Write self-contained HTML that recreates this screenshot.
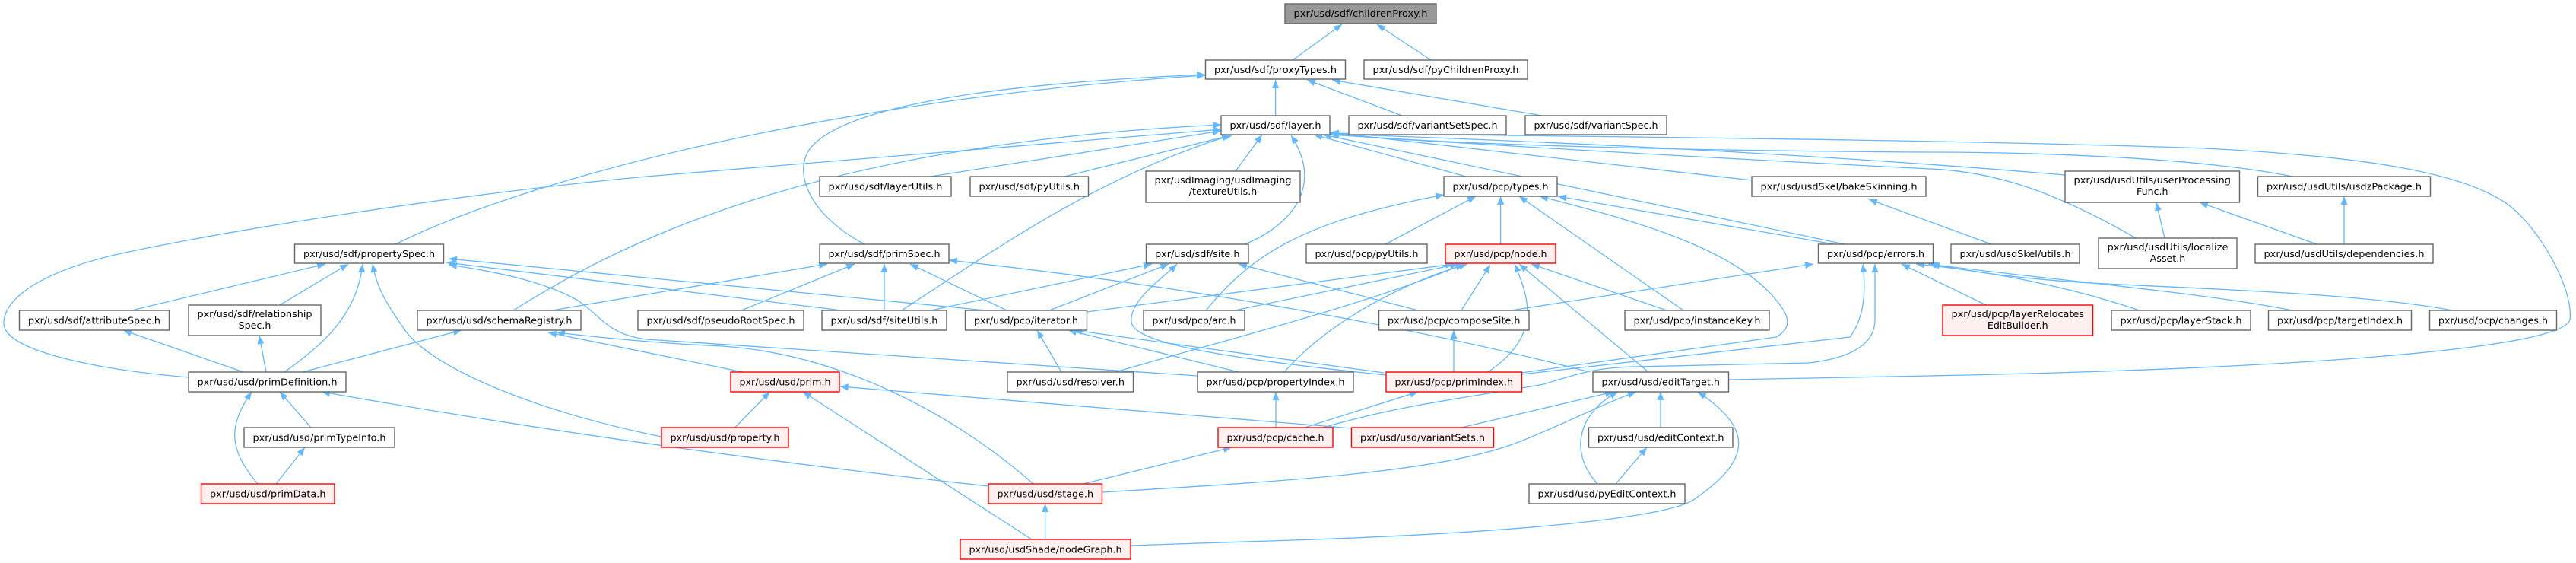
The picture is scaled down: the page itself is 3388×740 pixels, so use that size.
<!DOCTYPE html>
<html><head><meta charset="utf-8"><style>
html,body{margin:0;padding:0;background:#fff;}
svg{display:block;}
text{font-family:"DejaVu Sans","Liberation Sans",sans-serif;font-size:12.6px;fill:#000;}
.e{fill:none;stroke:#63b8ff;stroke-width:1.3;marker-end:url(#a);}
.n{fill:#fff;stroke:#666;stroke-width:1.4;}
.r{fill:#fff0f0;stroke:#f00;stroke-width:1.4;}
.g{fill:#999;stroke:#666;stroke-width:1.4;}
</style></head><body>
<svg width="3388" height="740" viewBox="0 0 3388 740" xmlns="http://www.w3.org/2000/svg">
<defs><marker id="a" markerUnits="userSpaceOnUse" markerWidth="12" markerHeight="10" refX="11" refY="4.5" orient="auto"><path d="M0,0L11,4.5L0,9z" fill="#63b8ff"/></marker></defs>
<g>
<path class="e" d="M1700,79 L1765,32"/>
<path class="e" d="M1882,79 L1811,32"/>
<path class="e" d="M1677.6,152 L1677.6,105"/>
<path class="e" d="M1844,152 L1719,105"/>
<path class="e" d="M2028,152 L1752,105"/>
<path class="e" d="M520,321 C700,232 1100,130 1585,99"/>
<path class="e" d="M1137,321 C1060,280 1040,220 1070,190 C1120,140 1300,110 1585,98"/>
<path class="e" d="M1224,232 L1606,172"/>
<path class="e" d="M1400,232 L1622,177"/>
<path class="e" d="M1625,225 L1660,177"/>
<path class="e" d="M1928,232 L1728,177"/>
<path class="e" d="M2304,237 L1749,174"/>
<path class="e" d="M2426,321 L1740,177"/>
<path class="e" d="M1637,321 C1690,300 1745,250 1698,178"/>
<path class="e" d="M1186,408 C1320,320 1450,230 1618,178"/>
<path class="e" d="M675,408 C800,330 1050,190 1606,164"/>
<path class="e" d="M248,496 C120,485 5,460 5,425 C5,390 60,355 160,333 C300,303 600,255 850,232 L1606,170"/>
<path class="e" d="M3015,232 C2880,205 2650,200 2538,200 C2200,198 1900,190 1750,176"/>
<path class="e" d="M2716,230 Q2300,195 1750,176"/>
<path class="e" d="M2809,313 C2700,250 2620,225 2538,222 Q2100,200 1750,177"/>
<path class="e" d="M2273,499 L2538,494 C3000,485 3370,460 3380,420 C3385,380 3340,300 3300,270 C3240,225 3100,205 2900,195 C2538,182 1900,178 1750,175"/>
<path class="e" d="M173,408 L428,347"/>
<path class="e" d="M368,401 L458,347"/>
<path class="e" d="M374,489 C430,450 470,410 477,347"/>
<path class="e" d="M870,574 C700,540 560,480 530,430 C505,395 495,375 490,347"/>
<path class="e" d="M1107,408 L587,345"/>
<path class="e" d="M1297,408 L590,340"/>
<path class="e" d="M1575,494 L850,446 C800,440 790,415 760,395 C720,372 660,358 590,348"/>
<path class="e" d="M1359,636 C1250,540 1100,465 950,455 C880,452 800,445 732,437"/>
<path class="e" d="M977,489 L721,437"/>
<path class="e" d="M398,489 L607,434"/>
<path class="e" d="M320,489 L162,434"/>
<path class="e" d="M350,489 L341,441"/>
<path class="e" d="M726,408 L1088,347"/>
<path class="e" d="M409,562 L368,515"/>
<path class="e" d="M339,636 C300,590 300,560 331,515"/>
<path class="e" d="M363,636 L401,588"/>
<path class="e" d="M1300,639 Q850,590 423,515"/>
<path class="e" d="M975,408 L1124,347"/>
<path class="e" d="M1163,408 L1163,347"/>
<path class="e" d="M1324,408 L1197,347"/>
<path class="e" d="M2087,488 C1900,440 1600,380 1248,342"/>
<path class="e" d="M1224,408 L1515,347"/>
<path class="e" d="M1380,408 L1537,347"/>
<path class="e" d="M1823,493 C1600,470 1490,450 1488,423 C1485,395 1530,365 1548,347"/>
<path class="e" d="M1865,408 L1629,347"/>
<path class="e" d="M1396,489 L1364,434"/>
<path class="e" d="M1629,489 L1405,434"/>
<path class="e" d="M1820,490 L1412,434"/>
<path class="e" d="M1429,410 L1912,347"/>
<path class="e" d="M1624,408 L1918,347"/>
<path class="e" d="M1467,489 C1600,450 1800,400 1925,347"/>
<path class="e" d="M1689,489 C1750,420 1850,370 1930,347"/>
<path class="e" d="M1922,408 L1960,348"/>
<path class="e" d="M1957,489 C2030,440 2010,390 1992,347"/>
<path class="e" d="M2168,489 L1998,347"/>
<path class="e" d="M2192,408 L2014,347"/>
<path class="e" d="M1586,408 C1650,330 1720,290 1899,256"/>
<path class="e" d="M1822,321 L1941,258"/>
<path class="e" d="M1973.6,321 L1973.6,258"/>
<path class="e" d="M2214,408 L1998,258"/>
<path class="e" d="M2001,490 L2336,443 C2350,435 2355,425 2347,410 C2300,330 2150,290 2025,258"/>
<path class="e" d="M2412,321 L2049,258"/>
<path class="e" d="M1987,408 L2385,347"/>
<path class="e" d="M2001,492 L2433,443 C2450,420 2455,390 2450,347"/>
<path class="e" d="M1740,562 C1850,530 1950,520 2030,505 C2080,490 2100,483 2150,482 L2379,477 C2440,470 2466,450 2466,420 L2466,347"/>
<path class="e" d="M2612,401 L2501,347"/>
<path class="e" d="M2814,408 C2700,370 2600,355 2520,347"/>
<path class="e" d="M3015,408 C2900,385 2700,368 2536,347"/>
<path class="e" d="M3226,408 C3100,385 2900,380 2750,372 C2650,366 2580,355 2540,347"/>
<path class="e" d="M2619,321 L2458,262"/>
<path class="e" d="M2847,313 L2836,266"/>
<path class="e" d="M3047,321 L2893,266"/>
<path class="e" d="M3083,321 L3083,258"/>
<path class="e" d="M1922,562 L2122,515"/>
<path class="e" d="M2101,636 C2060,590 2080,540 2128,515"/>
<path class="e" d="M1449.5,647 C1700,632 1900,620 2000,580 C2060,556 2110,530 2152,515"/>
<path class="e" d="M2184,562 L2184,515"/>
<path class="e" d="M1487,717 L1700,710 C2000,700 2200,680 2230,655 C2310,600 2300,560 2233,515"/>
<path class="e" d="M2125,636 L2166,588"/>
<path class="e" d="M1424.5,636 L1620,588"/>
<path class="e" d="M1678,562 L1678,515"/>
<path class="e" d="M1716,562 L1865,515"/>
<path class="e" d="M1912,489 L1912,434"/>
<path class="e" d="M1374.6,709 L1374.6,662"/>
<path class="e" d="M1357,709 L1056,515"/>
<path class="e" d="M966.5,562 L1012.6,515"/>
<path class="e" d="M1778,563 L1104.7,508"/>
</g>
<g>
<rect class="g" x="1690" y="5" width="199" height="26"/><text x="1701.5" y="22" textLength="176" lengthAdjust="spacingAndGlyphs">pxr/usd/sdf/childrenProxy.h</text>
<rect class="n" x="1585.5" y="79" width="184" height="25"/><text x="1597" y="96" textLength="161" lengthAdjust="spacingAndGlyphs">pxr/usd/sdf/proxyTypes.h</text>
<rect class="n" x="1794" y="79" width="215" height="25"/><text x="1805.5" y="96" textLength="192" lengthAdjust="spacingAndGlyphs">pxr/usd/sdf/pyChildrenProxy.h</text>
<rect class="n" x="1606" y="152" width="143" height="25"/><text x="1617.5" y="169" textLength="120" lengthAdjust="spacingAndGlyphs">pxr/usd/sdf/layer.h</text>
<rect class="n" x="1774" y="152" width="207" height="25"/><text x="1785.5" y="169" textLength="184" lengthAdjust="spacingAndGlyphs">pxr/usd/sdf/variantSetSpec.h</text>
<rect class="n" x="2006" y="152" width="186" height="25"/><text x="2017.5" y="169" textLength="163" lengthAdjust="spacingAndGlyphs">pxr/usd/sdf/variantSpec.h</text>
<rect class="n" x="1078" y="232" width="173" height="26"/><text x="1089.5" y="249.5" textLength="150" lengthAdjust="spacingAndGlyphs">pxr/usd/sdf/layerUtils.h</text>
<rect class="n" x="1276" y="232" width="155.5" height="26"/><text x="1287.5" y="249.5" textLength="132.5" lengthAdjust="spacingAndGlyphs">pxr/usd/sdf/pyUtils.h</text>
<rect class="n" x="1507" y="225" width="203" height="41"/><text x="1518.5" y="241" textLength="180" lengthAdjust="spacingAndGlyphs">pxr/usdImaging/usdImaging</text><text x="1608.5" y="256" text-anchor="middle">/textureUtils.h</text>
<rect class="n" x="1899" y="232" width="149" height="26"/><text x="1910.5" y="249.5" textLength="126" lengthAdjust="spacingAndGlyphs">pxr/usd/pcp/types.h</text>
<rect class="n" x="2304" y="232" width="229" height="26"/><text x="2315.5" y="249.5" textLength="206" lengthAdjust="spacingAndGlyphs">pxr/usd/usdSkel/bakeSkinning.h</text>
<rect class="n" x="2716" y="225" width="229.5" height="41"/><text x="2727.5" y="241" textLength="206.5" lengthAdjust="spacingAndGlyphs">pxr/usd/usdUtils/userProcessing</text><text x="2830.75" y="256" text-anchor="middle">Func.h</text>
<rect class="n" x="2969.5" y="232" width="227" height="26"/><text x="2981" y="249.5" textLength="204" lengthAdjust="spacingAndGlyphs">pxr/usd/usdUtils/usdzPackage.h</text>
<rect class="n" x="387.5" y="321" width="196" height="25"/><text x="399" y="338" textLength="173" lengthAdjust="spacingAndGlyphs">pxr/usd/sdf/propertySpec.h</text>
<rect class="n" x="1078" y="321" width="170" height="25"/><text x="1089.5" y="338" textLength="147" lengthAdjust="spacingAndGlyphs">pxr/usd/sdf/primSpec.h</text>
<rect class="n" x="1507.5" y="321" width="134.5" height="25"/><text x="1519" y="338" textLength="111.5" lengthAdjust="spacingAndGlyphs">pxr/usd/sdf/site.h</text>
<rect class="n" x="1718" y="321" width="159" height="25"/><text x="1729.5" y="338" textLength="136" lengthAdjust="spacingAndGlyphs">pxr/usd/pcp/pyUtils.h</text>
<rect class="r" x="1901" y="321" width="145" height="25"/><text x="1912.5" y="338" textLength="122" lengthAdjust="spacingAndGlyphs">pxr/usd/pcp/node.h</text>
<rect class="n" x="2391.5" y="321" width="151" height="25"/><text x="2403" y="338" textLength="128" lengthAdjust="spacingAndGlyphs">pxr/usd/pcp/errors.h</text>
<rect class="n" x="2566" y="321" width="169" height="25"/><text x="2577.5" y="338" textLength="146" lengthAdjust="spacingAndGlyphs">pxr/usd/usdSkel/utils.h</text>
<rect class="n" x="2760" y="313" width="182" height="40"/><text x="2771.5" y="329" textLength="159" lengthAdjust="spacingAndGlyphs">pxr/usd/usdUtils/localize</text><text x="2851" y="344" text-anchor="middle">Asset.h</text>
<rect class="n" x="2966" y="321" width="234" height="25"/><text x="2977.5" y="338" textLength="211" lengthAdjust="spacingAndGlyphs">pxr/usd/usdUtils/dependencies.h</text>
<rect class="n" x="25.5" y="408" width="197" height="26"/><text x="37" y="425.5" textLength="174" lengthAdjust="spacingAndGlyphs">pxr/usd/sdf/attributeSpec.h</text>
<rect class="n" x="248" y="401" width="174" height="40"/><text x="259.5" y="417" textLength="151" lengthAdjust="spacingAndGlyphs">pxr/usd/sdf/relationship</text><text x="335" y="432" text-anchor="middle">Spec.h</text>
<rect class="n" x="549" y="408" width="215" height="26"/><text x="560.5" y="425.5" textLength="192" lengthAdjust="spacingAndGlyphs">pxr/usd/usd/schemaRegistry.h</text>
<rect class="n" x="839" y="408" width="218" height="26"/><text x="850.5" y="425.5" textLength="195" lengthAdjust="spacingAndGlyphs">pxr/usd/sdf/pseudoRootSpec.h</text>
<rect class="n" x="1081" y="408" width="164" height="26"/><text x="1092.5" y="425.5" textLength="141" lengthAdjust="spacingAndGlyphs">pxr/usd/sdf/siteUtils.h</text>
<rect class="n" x="1269.5" y="408" width="160" height="26"/><text x="1281" y="425.5" textLength="137" lengthAdjust="spacingAndGlyphs">pxr/usd/pcp/iterator.h</text>
<rect class="n" x="1504" y="408" width="133" height="26"/><text x="1515.5" y="425.5" textLength="110" lengthAdjust="spacingAndGlyphs">pxr/usd/pcp/arc.h</text>
<rect class="n" x="1813.5" y="408" width="197.5" height="26"/><text x="1825" y="425.5" textLength="174.5" lengthAdjust="spacingAndGlyphs">pxr/usd/pcp/composeSite.h</text>
<rect class="n" x="2137" y="408" width="190" height="26"/><text x="2148.5" y="425.5" textLength="167" lengthAdjust="spacingAndGlyphs">pxr/usd/pcp/instanceKey.h</text>
<rect class="r" x="2555" y="401" width="197.5" height="40"/><text x="2566.5" y="417" textLength="174.5" lengthAdjust="spacingAndGlyphs">pxr/usd/pcp/layerRelocates</text><text x="2653.75" y="432" text-anchor="middle">EditBuilder.h</text>
<rect class="n" x="2777" y="408" width="183" height="26"/><text x="2788.5" y="425.5" textLength="160" lengthAdjust="spacingAndGlyphs">pxr/usd/pcp/layerStack.h</text>
<rect class="n" x="2983.5" y="408" width="188" height="26"/><text x="2995" y="425.5" textLength="165" lengthAdjust="spacingAndGlyphs">pxr/usd/pcp/targetIndex.h</text>
<rect class="n" x="3195.5" y="408" width="167" height="26"/><text x="3207" y="425.5" textLength="144" lengthAdjust="spacingAndGlyphs">pxr/usd/pcp/changes.h</text>
<rect class="n" x="248" y="489" width="207" height="26"/><text x="259.5" y="506.5" textLength="184" lengthAdjust="spacingAndGlyphs">pxr/usd/usd/primDefinition.h</text>
<rect class="r" x="961" y="489" width="143" height="26"/><text x="972.5" y="506.5" textLength="120" lengthAdjust="spacingAndGlyphs">pxr/usd/usd/prim.h</text>
<rect class="n" x="1325" y="489" width="165.5" height="26"/><text x="1336.5" y="506.5" textLength="142.5" lengthAdjust="spacingAndGlyphs">pxr/usd/usd/resolver.h</text>
<rect class="n" x="1575" y="489" width="205" height="26"/><text x="1586.5" y="506.5" textLength="182" lengthAdjust="spacingAndGlyphs">pxr/usd/pcp/propertyIndex.h</text>
<rect class="r" x="1823" y="489" width="178.5" height="26"/><text x="1834.5" y="506.5" textLength="155.5" lengthAdjust="spacingAndGlyphs">pxr/usd/pcp/primIndex.h</text>
<rect class="n" x="2095" y="489" width="178.5" height="26"/><text x="2106.5" y="506.5" textLength="155.5" lengthAdjust="spacingAndGlyphs">pxr/usd/usd/editTarget.h</text>
<rect class="n" x="321" y="562" width="198" height="26"/><text x="332.5" y="579.5" textLength="175" lengthAdjust="spacingAndGlyphs">pxr/usd/usd/primTypeInfo.h</text>
<rect class="r" x="870" y="562" width="167" height="26"/><text x="881.5" y="579.5" textLength="144" lengthAdjust="spacingAndGlyphs">pxr/usd/usd/property.h</text>
<rect class="r" x="1602" y="562" width="151" height="26"/><text x="1613.5" y="579.5" textLength="128" lengthAdjust="spacingAndGlyphs">pxr/usd/pcp/cache.h</text>
<rect class="r" x="1777.5" y="562" width="187" height="26"/><text x="1789" y="579.5" textLength="164" lengthAdjust="spacingAndGlyphs">pxr/usd/usd/variantSets.h</text>
<rect class="n" x="2089.5" y="562" width="189.5" height="26"/><text x="2101" y="579.5" textLength="166.5" lengthAdjust="spacingAndGlyphs">pxr/usd/usd/editContext.h</text>
<rect class="r" x="264.5" y="636" width="175.5" height="26"/><text x="276" y="653.5" textLength="152.5" lengthAdjust="spacingAndGlyphs">pxr/usd/usd/primData.h</text>
<rect class="r" x="1300" y="636" width="149.5" height="26"/><text x="1311.5" y="653.5" textLength="126.5" lengthAdjust="spacingAndGlyphs">pxr/usd/usd/stage.h</text>
<rect class="n" x="2011" y="636" width="205" height="26"/><text x="2022.5" y="653.5" textLength="182" lengthAdjust="spacingAndGlyphs">pxr/usd/usd/pyEditContext.h</text>
<rect class="r" x="1263" y="709" width="224" height="26"/><text x="1274.5" y="726.5" textLength="201" lengthAdjust="spacingAndGlyphs">pxr/usd/usdShade/nodeGraph.h</text>
</g>
</svg>
</body></html>
